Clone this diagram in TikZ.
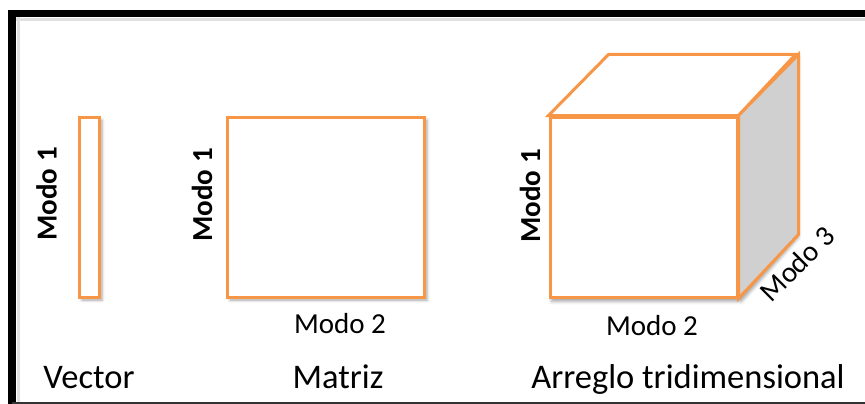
\documentclass[tikz,border=0pt]{standalone}
\usepackage{fontspec}
\setmainfont{Carlito}
\usetikzlibrary{shadows.blur,backgrounds}
\definecolor{boxOrange}{RGB}{247,150,70}
\definecolor{sideGray}{RGB}{208,208,208}
\begin{document}
\begin{tikzpicture}[x=1pt, y=-1pt,
    boxStyle/.style={draw=boxOrange, line width=3pt, fill=white, inner sep=0pt, line join=miter},
    shadowStyle/.style={blur shadow={shadow xshift=3pt, shadow yshift=-3pt, shadow blur radius=3pt, shadow opacity=35}},
    modeStyle/.style={font=\fontsize{29}{32}\selectfont, inner sep=0pt},
    axisStyle/.style={font=\bfseries\fontsize{29}{32}\selectfont, inner sep=0pt, rotate=90},
    nameStyle/.style={font=\fontsize{34.5}{38}\selectfont, inner sep=0pt, anchor=base}]
    \useasboundingbox (0,0) rectangle (865,404);

    % frame
    \draw[black!12, line width=3pt] (16,19.5) -- (865,19.5);
    \draw[black!12, line width=3pt] (18,17) -- (18,404);
    \draw[line width=7.5pt] (865,13.5) -- (12,13.5) -- (12,404);
    \draw[black!80, line width=2pt] (12,403) -- (865,403);

    % vector and matrix
    \node[boxStyle, shadowStyle, minimum width=20pt, minimum height=180pt] (vec) at (89,207) {};
    \node[boxStyle, shadowStyle, minimum width=197pt, minimum height=180pt] (mat) at (325.5,207) {};

    % cube
    \node[boxStyle, minimum width=187pt, minimum height=180pt] (front) at (643.5,207) {};
    \draw[boxStyle, fill=white] (front.north west) -- ++(60,-61) -- ++(187,0) -- (front.north east) -- cycle;
    \draw[boxStyle, fill=sideGray] (front.north east) -- ++(60,-61) -- ++(0,180) -- (front.south east) -- cycle;
    \begin{scope}[on background layer]
        \fill[white, shadowStyle] (front.south west) -- (front.north west) -- ++(60,-61) -- ++(187,0)
            -- ++(0,180) -- (front.south east) -- cycle;
    \end{scope}

    % labels
    \node[axisStyle] (vecMode1) at (46.5,194) {Modo 1};
    \node[axisStyle] (matMode1) at (202,195) {Modo 1};
    \node[axisStyle] (cubeMode1) at (530,196) {Modo 1};
    \node[modeStyle, anchor=base] (matMode2) at (340,333) {Modo 2};
    \node[modeStyle, anchor=base] (cubeMode2) at (652,335) {Modo 2};
    \node[modeStyle, rotate=45] (cubeMode3) at (797,264) {Modo 3};

    \node[nameStyle] (vecName) at (89,388) {Vector};
    \node[nameStyle] (matName) at (338,388) {Matriz};
    \node[nameStyle] (cubeName) at (688,388) {Arreglo tridimensional};
\end{tikzpicture}
\end{document}
